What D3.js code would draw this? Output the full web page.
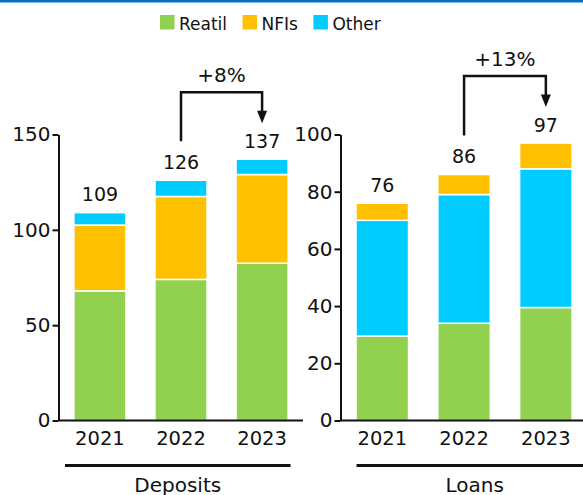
<!DOCTYPE html>
<html lang="en">
<head>
<meta charset="UTF-8">
<title>Deposits and Loans</title>
<script src="https://cdn.jsdelivr.net/npm/d3@7"></script>
<style>
    body { margin: 0; background: white; }
    text { font-family: "DejaVu Sans", Verdana, sans-serif; fill: #111; }
    .axis path, .axis line { stroke: #111; stroke-width: 2; }
    .axis text { font-size: 20px; }
</style>
</head>
<body>
<script>
    const years = ["2021", "2022", "2023"];
    const seriesNames = ["Reatil", "NFIs", "Other"];
    const colors = { Reatil: "#92D050", NFIs: "#FFC000", Other: "#00CCFF" };

    // deposits: stacked Reatil, NFIs, Other
    const depReatil = [68, 74, 82.5];
    const depNFIs   = [34.5, 43.5, 46.5];
    const depOther  = [6.5, 8.5, 8];
    const depTotals = [109, 126, 137];
    const depTicks  = [0, 50, 100, 150];

    // loans: stacked Reatil, Other, NFIs
    const loanReatil = [29.5, 34, 39.5];
    const loanOther  = [40.5, 45, 48.5];
    const loanNFIs   = [6, 7, 9];
    const loanTotals = [76, 86, 97];
    const loanTicks  = [0, 20, 40, 60, 80, 100];

    const growth = ["+8%", "+13%"];

    const width = 583, height = 495;
    const svg = d3.select("body").append("svg")
        .attr("width", width).attr("height", height);

    // blue rule at the top
    svg.append("rect").attr("x", 0).attr("y", 0)
        .attr("width", width).attr("height", 2.5).attr("fill", "#0070C0");

    // legend
    let lx = 160;
    seriesNames.forEach(name => {
        svg.append("rect").attr("x", lx).attr("y", 15)
            .attr("width", 14.5).attr("height", 14.5).attr("fill", colors[name]);
        const t = svg.append("text").attr("x", lx + 19).attr("y", 29.5)
            .style("font-size", "17px").text(name);
        lx += 19 + t.node().getComputedTextLength() + 15.5;
    });

    const y0 = 420.5, yTop = 134.5;

    function panel(opt) {
        const g = svg.append("g");
        const x = d3.scaleBand().domain(years)
            .range([opt.axisX, opt.axisX + opt.step * 3.025])
            .paddingInner(0.358).paddingOuter(0.19);
        const y = d3.scaleLinear().domain([0, opt.max]).range([y0, yTop]);

        // stacked bars
        const rows = years.map((yr, i) => {
            const r = { year: yr };
            opt.order.forEach(s => r[s.name] = s.values[i]);
            return r;
        });
        const stack = d3.stack().keys(opt.order.map(s => s.name))(rows);
        g.selectAll("g.layer").data(stack).join("g").attr("class", "layer")
            .attr("fill", d => colors[d.key])
            .selectAll("rect").data(d => d).join("rect")
            .attr("x", d => x(d.data.year))
            .attr("width", x.bandwidth())
            .attr("y", d => y(d[1]))
            .attr("height", d => y(d[0]) - y(d[1]))
            .attr("stroke", "white").attr("stroke-width", 1.5);

        // totals
        g.selectAll("text.total").data(opt.totals).join("text").attr("class", "total")
            .attr("x", (d, i) => x(years[i]) + x.bandwidth() / 2)
            .attr("y", d => y(d) - 11.5)
            .attr("text-anchor", "middle")
            .style("font-size", "19px")
            .text(d => d);

        // y axis
        g.append("g").attr("class", "axis")
            .attr("transform", `translate(${opt.axisX},0)`)
            .call(d3.axisLeft(y).tickValues(opt.ticks).tickSize(6).tickSizeOuter(0).tickPadding(2));

        // x axis line and labels
        g.append("line").attr("x1", opt.axisX).attr("x2", opt.axisEnd)
            .attr("y1", y0).attr("y2", y0).attr("stroke", "#111").attr("stroke-width", 2);
        g.selectAll("text.year").data(years).join("text").attr("class", "year")
            .attr("x", d => x(d) + x.bandwidth() / 2)
            .attr("y", 445)
            .attr("text-anchor", "middle")
            .style("font-size", "19.5px")
            .text(d => d);

        // group underline and label
        g.append("line").attr("x1", opt.lineX1).attr("x2", opt.lineX2)
            .attr("y1", 465.5).attr("y2", 465.5).attr("stroke", "#111").attr("stroke-width", 3);
        g.append("text").attr("x", (opt.lineX1 + opt.lineX2) / 2).attr("y", 491.5)
            .attr("text-anchor", "middle").style("font-size", "20px").text(opt.label);

        // growth arrow from 2022 to 2023
        const xa = x(years[1]) + x.bandwidth() / 2, xb = x(years[2]) + x.bandwidth() / 2;
        const ya = y(opt.totals[1]) - 39, yb = y(opt.totals[2]) - 36;
        const yh = y(opt.totals[2]) - 67;
        g.append("path")
            .attr("d", `M${xa},${ya}V${yh}H${xb}V${yb - 11}`)
            .attr("fill", "none").attr("stroke", "#111").attr("stroke-width", 2.5);
        g.append("path")
            .attr("d", `M${xb - 5},${yb - 12.5}L${xb + 5},${yb - 12.5}L${xb},${yb}Z`)
            .attr("fill", "#111");
        g.append("text").attr("x", (xa + xb) / 2).attr("y", yh - 10)
            .attr("text-anchor", "middle").style("font-size", "20px").text(opt.growth);
    }

    panel({
        axisX: 58.5, axisEnd: 303, step: 81, max: 150, ticks: depTicks,
        order: [
            { name: "Reatil", values: depReatil },
            { name: "NFIs", values: depNFIs },
            { name: "Other", values: depOther }
        ],
        totals: depTotals, label: "Deposits", lineX1: 65, lineX2: 290.5, growth: growth[0]
    });

    panel({
        axisX: 340.5, axisEnd: 583, step: 81.7, max: 100, ticks: loanTicks,
        order: [
            { name: "Reatil", values: loanReatil },
            { name: "Other", values: loanOther },
            { name: "NFIs", values: loanNFIs }
        ],
        totals: loanTotals, label: "Loans", lineX1: 356.5, lineX2: 593, growth: growth[1]
    });
</script>
</body>
</html>
